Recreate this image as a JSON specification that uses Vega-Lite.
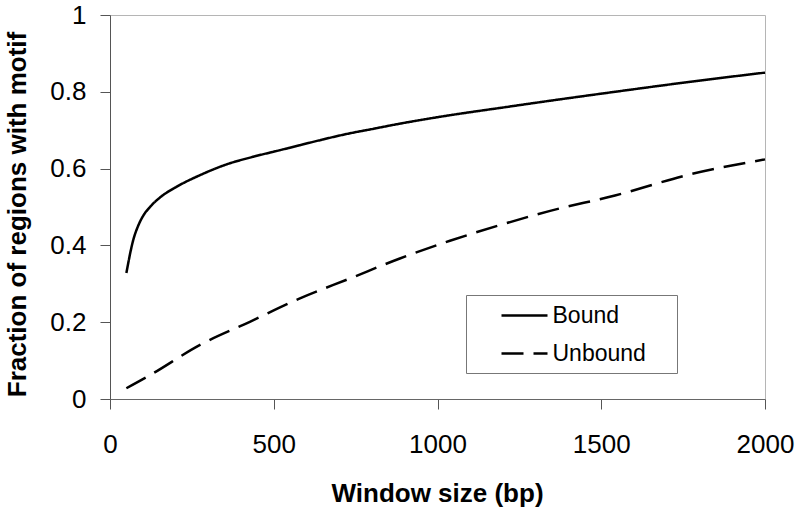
{
  "$schema": "https://vega.github.io/schema/vega-lite/v6.json",
  "width": 655,
  "height": 384,
  "autosize": "none",
  "padding": {"left": 110, "top": 15, "right": 35, "bottom": 112},
  "background": "white",
  "config": {"view": {"stroke": "#b5b5b5", "strokeWidth": 1}, "font": "Liberation Sans"},
  "data": {"values": [
    {"series": "Bound", "window": 50, "fraction": 0.328},
    {"series": "Bound", "window": 71, "fraction": 0.414},
    {"series": "Bound", "window": 87, "fraction": 0.453},
    {"series": "Bound", "window": 102, "fraction": 0.478},
    {"series": "Bound", "window": 122, "fraction": 0.500},
    {"series": "Bound", "window": 153, "fraction": 0.525},
    {"series": "Bound", "window": 204, "fraction": 0.553},
    {"series": "Bound", "window": 275, "fraction": 0.583},
    {"series": "Bound", "window": 356, "fraction": 0.611},
    {"series": "Bound", "window": 438, "fraction": 0.631},
    {"series": "Bound", "window": 519, "fraction": 0.648},
    {"series": "Bound", "window": 580, "fraction": 0.661},
    {"series": "Bound", "window": 641, "fraction": 0.674},
    {"series": "Bound", "window": 733, "fraction": 0.692},
    {"series": "Bound", "window": 794, "fraction": 0.702},
    {"series": "Bound", "window": 885, "fraction": 0.717},
    {"series": "Bound", "window": 1038, "fraction": 0.739},
    {"series": "Bound", "window": 1191, "fraction": 0.758},
    {"series": "Bound", "window": 1313, "fraction": 0.773},
    {"series": "Bound", "window": 1542, "fraction": 0.800},
    {"series": "Bound", "window": 1771, "fraction": 0.826},
    {"series": "Bound", "window": 2000, "fraction": 0.850},
    {"series": "Unbound", "window": 50, "fraction": 0.028},
    {"series": "Unbound", "window": 122, "fraction": 0.062},
    {"series": "Unbound", "window": 275, "fraction": 0.141},
    {"series": "Unbound", "window": 427, "fraction": 0.201},
    {"series": "Unbound", "window": 580, "fraction": 0.262},
    {"series": "Unbound", "window": 733, "fraction": 0.314},
    {"series": "Unbound", "window": 885, "fraction": 0.366},
    {"series": "Unbound", "window": 1038, "fraction": 0.412},
    {"series": "Unbound", "window": 1191, "fraction": 0.453},
    {"series": "Unbound", "window": 1344, "fraction": 0.490},
    {"series": "Unbound", "window": 1542, "fraction": 0.530},
    {"series": "Unbound", "window": 1771, "fraction": 0.585},
    {"series": "Unbound", "window": 2000, "fraction": 0.624}
  ]},
  "mark": {"type": "line", "color": "black", "strokeWidth": 2.5, "interpolate": "monotone"},
  "encoding": {
    "x": {
      "field": "window", "type": "quantitative",
      "scale": {"domain": [0, 2000], "nice": false},
      "axis": {
        "values": [0, 500, 1000, 1500, 2000],
        "format": "d",
        "title": "Window size (bp)",
        "grid": false,
        "labelFontSize": 26, "labelPadding": 22, "labelColor": "black", "labelFlush": false,
        "tickSize": 10, "tickColor": "#555", "domainColor": "#666",
        "titleFontSize": 26, "titleFontWeight": "bold", "titleColor": "black",
        "titleX": 327, "titleY": 102, "titleBaseline": "alphabetic"
      }
    },
    "y": {
      "field": "fraction", "type": "quantitative",
      "scale": {"domain": [0, 1], "nice": false},
      "axis": {
        "values": [0, 0.2, 0.4, 0.6, 0.8, 1],
        "format": "~g",
        "title": "Fraction of regions with motif",
        "grid": false,
        "labelFontSize": 26, "labelPadding": 14, "labelColor": "black", "labelFlush": false,
        "tickSize": 10, "tickColor": "#555", "domainColor": "#555",
        "titleFontSize": 26, "titleFontWeight": "bold", "titleColor": "black",
        "titleAngle": -90, "titleX": -85, "titleY": 199, "titleBaseline": "alphabetic", "titleAlign": "center"
      }
    },
    "strokeDash": {
      "field": "series", "type": "nominal",
      "scale": {"domain": ["Bound", "Unbound"], "range": [[1, 0], [22, 10]]},
      "legend": {
        "title": null,
        "orient": "none", "legendX": 356, "legendY": 280,
        "symbolType": "M-2,0H2", "symbolSize": 529, "symbolStrokeWidth": 2.5,
        "symbolStrokeColor": "black", "symbolFillColor": "transparent",
        "symbolOffset": 38,
        "labelFontSize": 23, "labelOffset": 15, "labelColor": "black",
        "padding": 7.5, "rowPadding": 13,
        "strokeColor": "#777", "fillColor": "white",
        "labelExpr": "datum.label + '\u00a0\u2800'"
      }
    }
  }
}
